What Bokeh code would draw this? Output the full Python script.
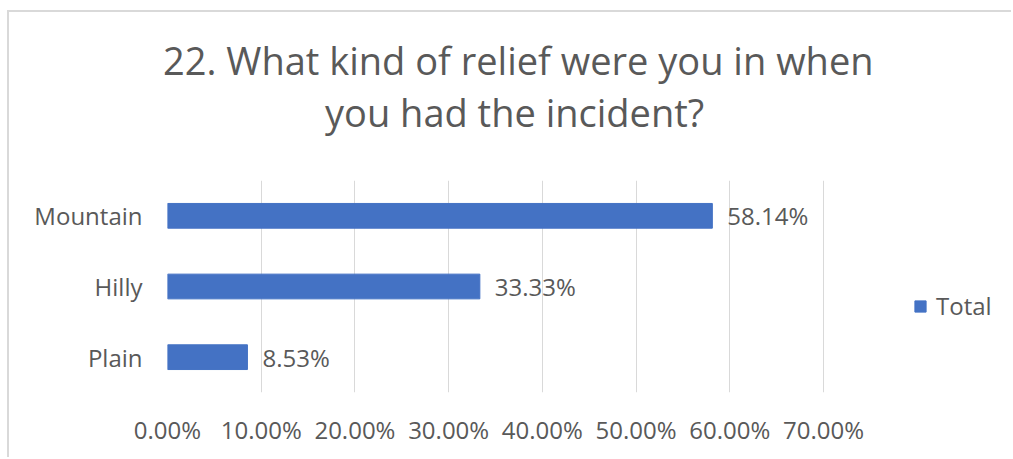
from bokeh.plotting import figure
from bokeh.models import (NumeralTickFormatter, FixedTicker, Legend, LegendItem, Title,
                          ColumnDataSource, LabelSet, Range1d, FactorRange)
from bokeh.core.properties import value
from bokeh.embed import file_html
from bokeh.resources import INLINE

categories = ["Mountain", "Hilly", "Plain"]
values = [0.5814, 0.3333, 0.0853]
value_labels = ["58.14%", "33.33%", "8.53%"]
tick_values = [0.0, 0.1, 0.2, 0.3, 0.4, 0.5, 0.6, 0.7]
title_lines = ["22. What kind of relief were you in when", "you had the incident?"]
series_name = "Total"

FONT = "Open Sans"
GRAY = "#595959"
BLUE = "#4472C4"
LBL = "24px"

OX, OY = 9, 12           # canvas origin on the page (after css margin + border)
W, H = 1013 - OX, 459 - OY
PL, PR, PT, PB = 167, 823, 180, 392   # page px of the 0%..70% plot area
FL, FT, FB = PL - OX, PT - OY, PB - OY

# frame is extended to the right edge so the legend (inside the frame) is not clipped
x_end = tick_values[-1] * (1013 - PL) / (PR - PL)

p = figure(width=W, height=H, output_backend="svg", toolbar_location=None,
           y_range=FactorRange(factors=list(reversed(categories))),
           x_range=Range1d(0, x_end),
           min_border_left=FL, min_border_right=0,
           min_border_top=FT, min_border_bottom=H - FB)
p.styles = {"margin-left": "7px", "margin-top": "10px",
            "border-left": "2px solid #D9D9D9", "border-top": "2px solid #D9D9D9"}
p.outline_line_color = None
p.background_fill_color = "white"
p.border_fill_color = "white"

src = ColumnDataSource(dict(cat=categories, val=values, lab=value_labels))
bars = p.hbar(y="cat", right="val", left=0, height=0.35, source=src,
              fill_color=BLUE, line_color=BLUE)

labels = LabelSet(x="val", y="cat", text="lab", source=src, x_offset=15,
                  text_baseline="middle", text_align="left",
                  text_font=value(FONT), text_font_size=LBL, text_color=GRAY)
p.add_layout(labels)

p.xaxis.ticker = FixedTicker(ticks=tick_values)
p.xaxis.formatter = NumeralTickFormatter(format="0.00%")
p.xaxis.axis_line_color = None
p.xaxis.major_tick_line_color = None
p.xaxis.minor_tick_line_color = None
p.xaxis.major_tick_out = 0
p.xaxis.minor_tick_out = 0
p.xaxis.major_label_text_font = FONT
p.xaxis.major_label_text_font_size = LBL
p.xaxis.major_label_text_color = GRAY
p.xaxis.major_label_standoff = 20

p.yaxis.axis_line_color = None
p.yaxis.major_tick_line_color = None
p.yaxis.major_tick_out = 0
p.yaxis.minor_tick_out = 0
p.yaxis.major_label_text_font = FONT
p.yaxis.major_label_text_font_size = LBL
p.yaxis.major_label_text_color = GRAY
p.yaxis.major_label_standoff = 25

p.xgrid.grid_line_color = "#D9D9D9"
p.ygrid.grid_line_color = None

legend = Legend(items=[LegendItem(label=series_name, renderers=[bars])],
                location=(913 - PL, PB - 322), orientation="vertical",
                glyph_width=14, glyph_height=14, label_height=14,
                label_standoff=9, padding=0, margin=0, border_line_color=None,
                background_fill_alpha=0,
                label_text_font=FONT, label_text_font_size=LBL, label_text_color=GRAY)
p.add_layout(legend)

# spacer between the plot area and the two title lines
p.add_layout(Title(text=" ", standoff=37, text_font_size="1px"), "above")
p.add_layout(Title(text=title_lines[1], align="left", offset=157.5, standoff=6,
                   text_font=FONT, text_font_size="38px", text_color=GRAY,
                   text_font_style="normal"), "above")
p.add_layout(Title(text=title_lines[0], align="left", offset=-4.5, standoff=-10,
                   text_font=FONT, text_font_size="38px", text_color=GRAY,
                   text_font_style="normal"), "above")

open("out.html", "w").write(file_html(p, INLINE))
